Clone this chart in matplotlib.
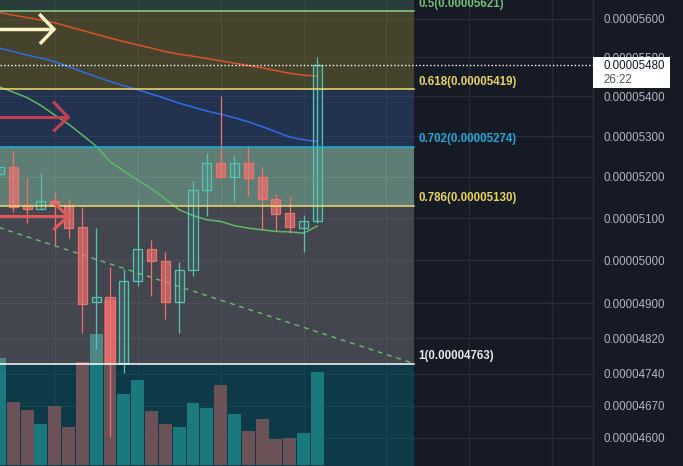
import numpy as np
import matplotlib
matplotlib.use("Agg")
import matplotlib.pyplot as plt
from matplotlib.colors import to_rgba
from matplotlib.patches import Rectangle
from matplotlib.transforms import blended_transform_factory, ScaledTranslation, IdentityTransform

plt.rcParams['font.family'] = ['Liberation Sans', 'DejaVu Sans']

# candles, prices in satoshi (1e-8)
opens  = [5206, 5223, 5131, 5122, 5141, 5131, 5078, 4902, 4914, 4764, 4951, 5026,
          4998, 4902, 4976, 5167, 5233, 5200, 5233, 5199, 5145, 5112, 5076, 5094]
highs  = [5230, 5266, 5200, 5210, 5164, 5145, 5127, 5076, 4983, 4979, 5145, 5048,
          5019, 4996, 5190, 5258, 5401, 5251, 5276, 5224, 5158, 5153, 5107, 5501]
lows   = [5200, 5115, 5089, 5122, 5036, 5053, 4833, 4795, 4601, 4743, 4941, 4917,
          4863, 4833, 4962, 5105, 5200, 5139, 5152, 5073, 5069, 5065, 5020, 5088]
closes = [5223, 5127, 5122, 5140, 5131, 5077, 4899, 4914, 4767, 4951, 5026, 4999,
          4904, 4976, 5168, 5233, 5200, 5233, 5198, 5145, 5109, 5078, 5094, 5480]
volumes = [107, 63, 55, 41, 59, 38, 103, 131, 165, 71, 85, 54,
           41, 38, 62, 57, 80, 51, 34, 46, 26, 27, 32, 93]

# moving averages
ma_red = [5617, 5610, 5604, 5597, 5590, 5580, 5570, 5560, 5550, 5541, 5532, 5524,
          5515, 5508, 5503, 5497, 5491, 5485, 5479, 5473, 5466, 5459, 5454, 5452]
ma_blue = [5524, 5515, 5506, 5498, 5489, 5476, 5463, 5450, 5438, 5427, 5417, 5406,
           5395, 5383, 5373, 5363, 5355, 5346, 5336, 5324, 5311, 5298, 5291, 5287]
ma_green = [5424, 5411, 5397, 5377, 5353, 5330, 5303, 5275, 5237, 5214, 5192, 5171,
            5146, 5120, 5106, 5096, 5092, 5082, 5076, 5072, 5068, 5067, 5064, 5081]

# fibonacci retracement
fib_high = 6479
fib_low = 4763
fib_start = -20
fib_end = 30
fib_levels = [0.382, 0.5, 0.618, 0.702, 0.786, 1, 1.272]
zone_colors = ['#3e6051', '#746c33', '#304a79', '#a6e0c3', '#707279', '#085a69']
line_colors = ['#81c784', '#8fd18f', '#f0dc6e', '#1fb0d8', '#f0dc6e', '#ffffff', '#085a69']
label_colors = ['#81c784', '#72bf78', '#e9d45a', '#21a9d6', '#e9d45a', '#e8e8e8', '#e8e8e8']

trend_x = [-1, 30]
trend_y = [5088, 4763]

price_ticks = [5600, 5500, 5400, 5300, 5200, 5100, 5000, 4900, 4820, 4740, 4670, 4600]
grid_bars = [4, 10, 16, 22, 28, 34, 40]

# hand drawn arrows (bar index, satoshi)
arrows = [
    dict(shaft_x=[-1, 3.94], shaft_y=[5573, 5573], head_x=[2.88, 3.94, 2.93], head_y=[5613, 5573, 5535], color='#fff3c8', lw=2.5),
    dict(shaft_x=[-1, 4.98], shaft_y=[5347, 5347], head_x=[3.89, 4.98, 3.89], head_y=[5387, 5347, 5312], color='#c34155', lw=2.2),
    dict(shaft_x=[-1, 4.98], shaft_y=[5104, 5104], head_x=[4.02, 4.98, 3.89], head_y=[5134, 5104, 5072], color='#e25858', lw=2.2),
]

bg = '#161a25'
grid_c = '#282c38'
up_c = '#53c4b4'
dn_c = '#f0706c'

o = np.array(opens) * 1e-8
h = np.array(highs) * 1e-8
l = np.array(lows) * 1e-8
c = np.array(closes) * 1e-8
bars = np.arange(len(opens))
up = c >= o

xlim = (0.04, 42.94)
ylim = (4539.3e-8, 5650.2e-8)

fig = plt.figure(figsize=(6.83, 4.66), dpi=100, facecolor=bg)
rect_ax = [0, 0, 593 / 683, 1]
axv = fig.add_axes(rect_ax, facecolor=bg)
ax = fig.add_axes(rect_ax)
ax.set_zorder(1)
ax.patch.set_visible(False)
ax.set_yscale('log')
ax.set_xlim(*xlim)
ax.set_ylim(*ylim)

# grid + volume in the lower axes
gtr = blended_transform_factory(axv.transAxes, ax.transData)
for t in price_ticks:
    axv.plot([0, 1], [t * 1e-8, t * 1e-8], transform=gtr, color=grid_c, lw=0.9, zorder=0)
for gx in grid_bars:
    axv.axvline(gx, color=grid_c, lw=0.9, zorder=0)
vol_colors = ['#2c9a93' if u else '#ce4a45' for u in up]
axv.bar(bars, volumes, width=0.93, color=vol_colors, zorder=2)
axv.set_xlim(*xlim)
axv.set_ylim(-1, 465)
axv.axis('off')

# fib zones, lines and labels
fib_prices = [fib_low + (1 - lv) * (fib_high - fib_low) for lv in fib_levels]
for i in range(len(fib_levels) - 1):
    ax.fill_between([fib_start, fib_end], fib_prices[i + 1] * 1e-8, fib_prices[i] * 1e-8,
                    color=zone_colors[i], alpha=0.5, lw=0, zorder=1)
for lv, p, lc, tc in zip(fib_levels, fib_prices, line_colors, label_colors):
    ax.plot([fib_start, fib_end], [p * 1e-8, p * 1e-8], color=lc, lw=1.1, zorder=6)
    ax.annotate("{0:g}({1:.8f})".format(lv, round(p) * 1e-8), xy=(fib_end, p * 1e-8),
                xytext=(4, 1.5), textcoords='offset pixels', ha='left', va='bottom',
                fontsize=8.3, fontweight='bold', color=tc, zorder=8)

# trend line and moving averages
ax.plot(trend_x, np.array(trend_y) * 1e-8, color='#6dbb6f', lw=1.0, ls=(0, (3.5, 3.5)), zorder=3)
ax.plot(bars, np.array(ma_red) * 1e-8, color='#d9532b', lw=1.1, zorder=3)
ax.plot(bars, np.array(ma_blue) * 1e-8, color='#2f6fe8', lw=1.1, zorder=3)
ax.plot(bars, np.array(ma_green) * 1e-8, color='#5fb868', lw=1.1, zorder=3)

# candles
edge = [up_c if u else dn_c for u in up]
fill = [to_rgba(up_c, 0.12) if u else to_rgba('#f57370', 0.65) for u in up]
ax.vlines(bars, l, h, colors=edge, lw=0.9, zorder=4)
ax.bar(bars, np.abs(c - o), bottom=np.minimum(o, c), width=0.66, color=fill,
       edgecolor=edge, linewidth=0.9, zorder=5)

# last price line
ax.axhline(c[-1], color='white', lw=1.0, ls=(0, (1, 1.6)), zorder=7)

# arrows
for a in arrows:
    ax.plot(a['shaft_x'], np.array(a['shaft_y']) * 1e-8, color=a['color'], lw=a['lw'],
            solid_capstyle='butt', zorder=9)
    ax.plot(a['head_x'], np.array(a['head_y']) * 1e-8, color=a['color'], lw=a['lw'],
            solid_capstyle='butt', solid_joinstyle='miter', zorder=9)

ax.set_xlim(*xlim)
ax.set_ylim(*ylim)

# right price scale
ax.yaxis.tick_right()
ax.set_yticks([t * 1e-8 for t in price_ticks])
ax.set_yticklabels(["{0:.8f}".format(t * 1e-8) for t in price_ticks])
ax.yaxis.set_minor_locator(matplotlib.ticker.NullLocator())
ax.tick_params(axis='y', length=0, pad=7.2, labelsize=8.3, labelcolor='#b2b5be')
ax.set_xticks([])
for s in ['top', 'bottom', 'left']:
    ax.spines[s].set_visible(False)
ax.spines['right'].set_color('#2a2e39')
ax.spines['right'].set_linewidth(1.0)

# last price tag
anchor = ScaledTranslation(1.0, c[-1], blended_transform_factory(ax.transAxes, ax.transData))
tag = Rectangle((0, -23), 77, 31, transform=IdentityTransform() + anchor,
                facecolor='white', edgecolor='none', zorder=10)
fig.add_artist(tag)
fig.text(10, -0.7, "{0:.8f}".format(c[-1]), transform=IdentityTransform() + anchor,
         va='center', ha='left', fontsize=8.3, color='#131722', zorder=11)
fig.text(10, -15, "26:22", transform=IdentityTransform() + anchor,
         va='center', ha='left', fontsize=8.3, color='#50535e', zorder=11)

plt.savefig('out.png', dpi=100, facecolor=bg)
